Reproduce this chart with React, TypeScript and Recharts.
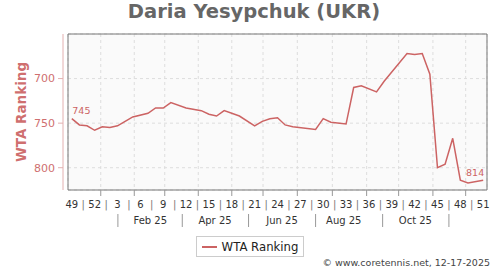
import React from 'react';
import {
  LineChart,
  Line,
  XAxis,
  YAxis,
  CartesianGrid,
  ReferenceArea,
  Legend,
  LabelList,
} from 'recharts';

// Week index counted from 2024 week 49, and the WTA ranking in that week
const weekIdx = [0, 1, 2, 3, 4, 5, 6, 7, 8, 10, 11, 12, 13, 15, 17, 18, 19, 20, 22, 24, 25, 26, 27, 28, 29, 32, 33, 34, 36, 37, 38, 40, 41, 44, 45, 46, 47, 48, 49, 50, 51, 52, 54];
const ranking = [745, 752, 753, 758, 754, 755, 753, 748, 743, 739, 733, 733, 727, 733, 736, 740, 742, 736, 742, 753, 748, 745, 744, 752, 754, 757, 745, 749, 751, 710, 708, 715, 703, 672, 673, 672, 695, 800, 796, 767, 814, 817, 814];

// Week-number labels, one every 3 weeks
const weekLabels = ['49', '52', '3', '6', '9', '12', '15', '18', '21', '24', '27', '30', '33', '36', '39', '42', '45', '48', '51'];
const weekLabelPos = weekLabels.map((_, i) => i * 3);
const weekSepPos = weekLabels.slice(0, -1).map((_, i) => i * 3 + 1.5);

// Month row (second line of the x axis)
const monthLabels = ['Feb 25', 'Apr 25', 'Jun 25', 'Aug 25', 'Oct 25'];
const monthLabelPos = [10.3, 18.8, 27.6, 35.7, 45.1];
const monthSepPos = [6.05, 14.5, 23.2, 32, 40.8, 49.5];

// Vertical grid lines (month starts)
const gridMonthPos = [3.8, 8.2, 12.2, 16.6, 21, 25.1, 29.6, 34.2, 38.7, 42.9, 47.4, 51.7];

const rankTicks = [700, 750, 800];
const rankDomain: [number, number] = [650, 825];

const LINE_COLOR = '#cc6363';
const AXIS_TEXT = '#cf6f6f';
const FONT = '"DejaVu Sans", Verdana, sans-serif';

const chartData = weekIdx.map((i, k) => ({ i, rank: ranking[k] }));
const xDomain: [number, number] = [-0.5, 54.5];

function WeekTick({ x, y, payload }: any) {
  const v = payload.value;
  if (Number.isInteger(v)) {
    return (
      <text x={x} y={y + 10.3} textAnchor="middle" fontSize={10} fill="#333" fontFamily={FONT}>
        {weekLabels[v / 3]}
      </text>
    );
  }
  return (
    <text x={x} y={y + 10} textAnchor="middle" fontSize={10} fill="#777" fontFamily={FONT}>
      |
    </text>
  );
}

function MonthTick({ x, y, payload }: any) {
  const idx = monthLabelPos.indexOf(payload.value);
  if (idx >= 0) {
    return (
      <text x={x} y={y + 12.3} textAnchor="middle" fontSize={10} fill="#333" fontFamily={FONT}>
        {monthLabels[idx]}
      </text>
    );
  }
  return <line x1={x} x2={x} y1={y + 2} y2={y + 15} stroke="#999" strokeWidth={1} />;
}

function EmptyTick() {
  return <g />;
}

function EndLabel(props: any) {
  const { x, y, value, index } = props;
  if (index === 0) {
    return (
      <text x={x + 0.5} y={y - 5} textAnchor="start" fontSize={9.5} fill={LINE_COLOR} fontFamily={FONT}>
        {value}
      </text>
    );
  }
  if (index === chartData.length - 1) {
    return (
      <text x={x + 1} y={y - 4.5} textAnchor="end" fontSize={9.5} fill={LINE_COLOR} fontFamily={FONT}>
        {value}
      </text>
    );
  }
  return null;
}

function LegendBox() {
  return (
    <div style={{ display: 'flex', justifyContent: 'center', paddingTop: 2, height: 21 }}>
      <div
        style={{
          boxSizing: 'border-box',
          height: 21,
          border: '1px solid #ccc',
          display: 'flex',
          alignItems: 'center',
          padding: '0 5px 0 5px',
          gap: 5,
          fontFamily: FONT,
          fontSize: 11.7,
          color: '#222',
          background: '#fff',
        }}
      >
        <svg width={15} height={10}>
          <line x1={0} x2={15} y1={5} y2={5} stroke={LINE_COLOR} strokeWidth={2} />
        </svg>
        <span>WTA Ranking</span>
      </div>
    </div>
  );
}

export default function App() {
  return (
    <div style={{ position: 'absolute', left: 0, top: 0, width: 500, height: 270, background: '#fff' }}>
      <div
        style={{
          position: 'absolute',
          top: 0,
          left: 4,
          width: 500,
          textAlign: 'center',
          fontFamily: FONT,
          fontWeight: 'bold',
          fontSize: 19.5,
          lineHeight: '24px',
          color: '#666',
        }}
      >
        Daria Yesypchuk (UKR)
      </div>

      <LineChart
        width={500}
        height={270}
        data={chartData}
        margin={{ top: 34, right: 13, bottom: 13, left: 0 }}
      >
        <CartesianGrid
          xAxisId="a"
          yAxisId="rank"
          stroke="#ddd"
          strokeDasharray="3 3"
          fill="#fafafa"
        />
        <YAxis yAxisId="frame" width={5} axisLine={false} tickLine={false} tick={false} />
        <YAxis
          yAxisId="rank"
          reversed
          domain={rankDomain}
          allowDataOverflow
          ticks={rankTicks}
          width={63}
          axisLine={{ stroke: '#e3b0b0' }}
          tickLine={{ stroke: '#e3b0b0' }}
          tickSize={5}
          tickMargin={3}
          tick={{ fill: AXIS_TEXT, fontSize: 11, fontFamily: FONT }}
          label={{
            content: (p: any) => {
              const vb = p.viewBox;
              const cx = vb.x + 21;
              const cy = vb.y + vb.height / 2;
              return (
                <text
                  x={cx}
                  y={cy}
                  transform={`rotate(-90 ${cx} ${cy})`}
                  textAnchor="middle"
                  dominantBaseline="central"
                  fontSize={13.5}
                  fontWeight="bold"
                  fill={AXIS_TEXT}
                  fontFamily={FONT}
                >
                  WTA Ranking
                </text>
              );
            },
          }}
        />
        {/* month-start grid ticks, closest to the plot */}
        <XAxis
          xAxisId="a"
          dataKey="i"
          type="number"
          domain={xDomain}
          allowDataOverflow
          ticks={gridMonthPos}
          interval={0}
          height={8}
          axisLine={false}
          tickLine={{ stroke: '#999' }}
          tickSize={6}
          tick={<EmptyTick />}
        />
        {/* week numbers */}
        <XAxis
          xAxisId="b"
          dataKey="i"
          type="number"
          domain={xDomain}
          allowDataOverflow
          ticks={[...weekLabelPos, ...weekSepPos].sort((a, b) => a - b)}
          interval={0}
          height={14}
          axisLine={false}
          tickLine={false}
          tickSize={0}
          tickMargin={0}
          tick={<WeekTick />}
        />
        {/* months */}
        <XAxis
          xAxisId="c"
          dataKey="i"
          type="number"
          domain={xDomain}
          allowDataOverflow
          ticks={[...monthLabelPos, ...monthSepPos].sort((a, b) => a - b)}
          interval={0}
          height={22}
          axisLine={false}
          tickLine={false}
          tickSize={0}
          tickMargin={0}
          tick={<MonthTick />}
        />
        <ReferenceArea
          xAxisId="a"
          yAxisId="rank"
          x1={xDomain[0]}
          x2={xDomain[1]}
          y1={rankDomain[0]}
          y2={rankDomain[1]}
          fill="none"
          fillOpacity={0}
          stroke="#777"
          strokeWidth={1}
          ifOverflow="visible"
        />
        <Line
          xAxisId="b"
          yAxisId="rank"
          type="linear"
          dataKey="rank"
          name="WTA Ranking"
          stroke={LINE_COLOR}
          strokeWidth={1.5}
          dot={false}
          isAnimationActive={false}
        >
          <LabelList dataKey="rank" content={<EndLabel />} />
        </Line>
        <Legend verticalAlign="bottom" wrapperStyle={{ left: 0, width: 500 }} content={() => <LegendBox />} />
      </LineChart>

      <div
        style={{
          position: 'absolute',
          left: 0,
          top: 257,
          width: 490,
          textAlign: 'right',
          fontFamily: FONT,
          fontSize: 9.5,
          lineHeight: '11px',
          color: '#444',
        }}
      >
        © www.coretennis.net, 12-17-2025
      </div>
    </div>
  );
}
